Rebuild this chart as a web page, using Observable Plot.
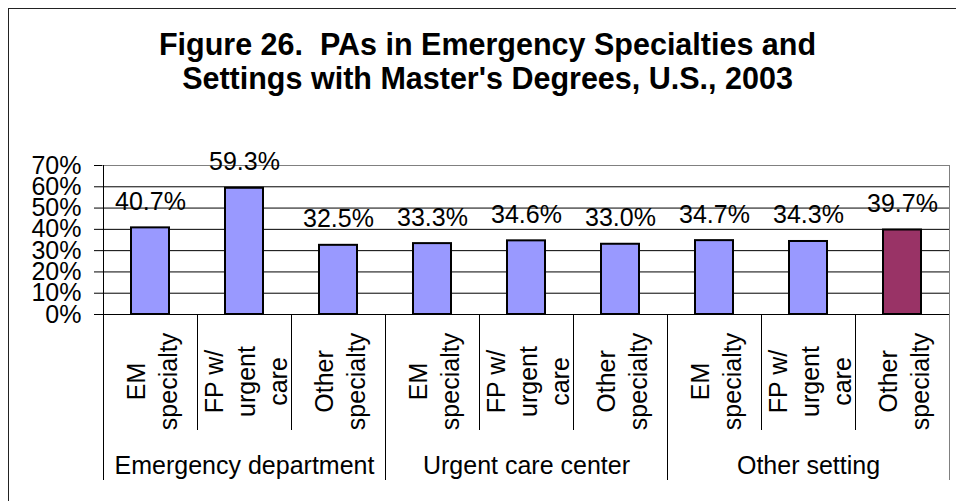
<!DOCTYPE html>
<html><head><meta charset="utf-8">
<script src="https://cdn.jsdelivr.net/npm/d3@7"></script>
<script src="https://cdn.jsdelivr.net/npm/@observablehq/plot@0.6"></script>
<style>
html,body{margin:0;padding:0;background:#fff;overflow:hidden;}
#wrap{position:relative;width:956px;height:501px;overflow:hidden;font-family:"Liberation Sans",Arial,sans-serif;}
#frame{position:absolute;left:8px;top:8px;width:1000px;height:600px;border-left:1.5px solid #222;border-top:1.5px solid #222;box-sizing:border-box;}
#title{position:absolute;left:9px;width:957px;top:27px;text-align:center;font-weight:bold;font-size:30.5px;line-height:34px;color:#000;white-space:nowrap;}
#chart{position:absolute;left:0;top:0;}
</style></head>
<body>
<div id="wrap">
  <div id="frame"></div>
  <div id="title">Figure 26.&nbsp; PAs in Emergency Specialties and<br>Settings with Master's Degrees, U.S., 2003</div>
  <div id="chart"></div>
</div>
<script>
const groups = ["Emergency department", "Urgent care center", "Other setting"];
const specialties = ["EM\nspecialty", "FP w/\nurgent\ncare", "Other\nspecialty"];
const values = [0.407, 0.593, 0.325, 0.333, 0.346, 0.330, 0.347, 0.343, 0.397];
const highlighted = [false, false, false, false, false, false, false, false, true];
const yTicks = [0, 0.1, 0.2, 0.3, 0.4, 0.5, 0.6, 0.7];
const colors = ["#9999FF", "#993366"];

const rows = [];
groups.forEach((g, gi) => specialties.forEach((s, si) => {
  const i = gi * specialties.length + si;
  rows.push({key: g + "|" + s, group: g, specialty: s, value: values[i], kind: highlighted[i] ? "focus" : "base"});
}));
const keys = rows.map(d => d.key);
const groupRows = groups.map(g => ({group: g, key: g + "|" + specialties[1]}));
const pct1 = d3.format(".1%");
const pct0 = d3.format(".0%");
const font = "Liberation Sans, Arial, sans-serif";

const plot = Plot.plot({
  width: 956, height: 501,
  marginLeft: 102, marginRight: 7, marginTop: 165, marginBottom: 187,
  style: {background: "transparent", fontFamily: font, color: "#000"},
  x: {domain: keys, paddingInner: 0.6, paddingOuter: 0.3, axis: null},
  y: {domain: [0, 0.7], axis: null},
  color: {domain: ["base", "focus"], range: colors},
  marks: [
    Plot.ruleY(yTicks, {stroke: d => d === 0.7 ? "#808080" : "#000", strokeWidth: 1}),
    Plot.barY(rows, {x: "key", y: "value", fill: "kind", stroke: "#000", strokeWidth: 2}),
    Plot.text(rows, {x: "key", y: "value", text: d => pct1(d.value), dy: -18, lineAnchor: "bottom", fontSize: 25, fontFamily: font, fill: "#000"}),
    Plot.axisY(yTicks, {anchor: "left", label: null, tickSize: 8, tickPadding: 13, tickFormat: pct0, fontSize: 25, fontFamily: font, stroke: "#000", fill: "#000"}),
    Plot.text(rows, {x: "key", text: "specialty", frameAnchor: "bottom", rotate: -90, dy: 67, lineHeight: 1.28, lineAnchor: "middle", textAnchor: "middle", fontSize: 25, fontFamily: font, fill: "#000"}),
    Plot.text(groupRows, {x: "key", text: "group", frameAnchor: "bottom", dy: 159, lineAnchor: "bottom", textAnchor: "middle", fontSize: 25, fontFamily: font, fill: "#000"})
  ]
});
document.getElementById("chart").appendChild(plot);

// separators below the axis, positioned from the plot's own x/y scales
const xs = plot.scale("x"), ys = plot.scale("y");
const step = xs.step, bw = xs.bandwidth;
const yTop = ys.apply(0.7), yBase = ys.apply(0);
const svg = d3.select(plot);
const g = svg.append("g").attr("stroke-width", 1);
for (let i = 0; i <= keys.length; i++) {
  const start = i < keys.length ? xs.apply(keys[i]) : xs.apply(keys[keys.length - 1]) + step;
  const bx = Math.round(start - (step - bw) / 2) + 0.5;
  const isGroup = i % specialties.length === 0;
  const isOuter = i === 0 || i === keys.length;
  g.append("line")
    .attr("x1", bx).attr("x2", bx)
    .attr("y1", isOuter ? yTop : yBase)
    .attr("y2", yBase + (isGroup ? 166 : 116))
    .attr("stroke", isOuter && i > 0 ? "#808080" : "#000");
}
</script>
</body></html>
